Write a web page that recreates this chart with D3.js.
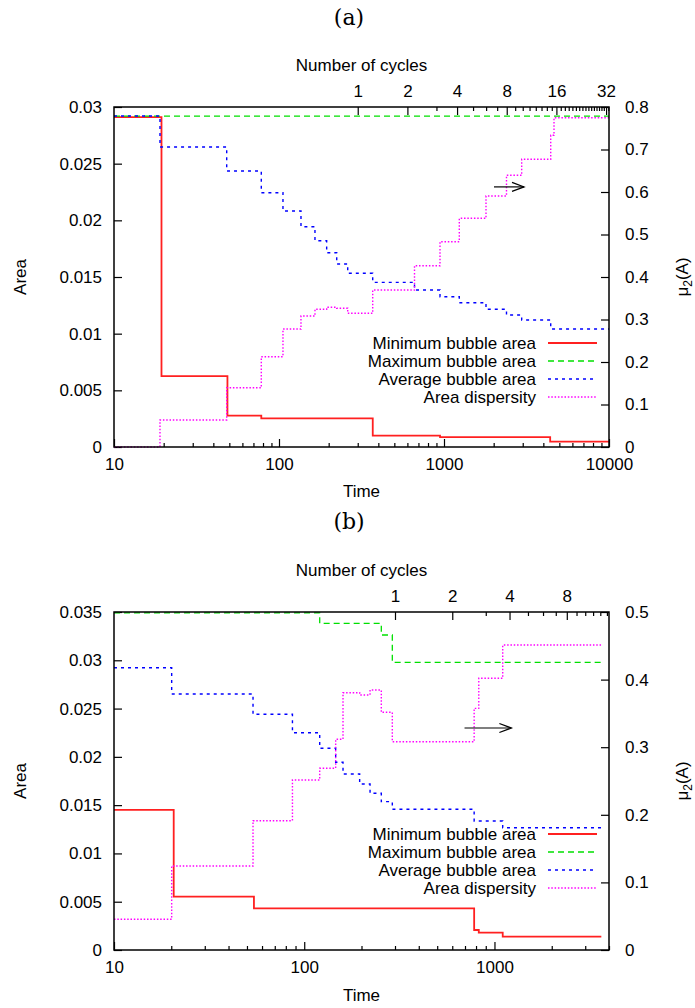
<!DOCTYPE html>
<html>
<head>
<meta charset="utf-8">
<script src="https://cdn.jsdelivr.net/npm/d3@7"></script>
<style>
  body { margin: 0; background: #fff; }
  text { font-family: "Liberation Sans", Arial, sans-serif; fill: #000; }
</style>
</head>
<body>
<div id="chart"></div>
<script>
// one cycle = 300 time units (top axis)
var PERIOD = 300;

// ---- panel (a) ----
var aMinT = [10, 19.4, 48.7, 78.1, 370, 946, 4400, 10000];
var aMin  = [0.0291, 0.00626, 0.00276, 0.00253, 0.00100, 0.00088, 0.00047, 0.00047];
var aMaxT = [10, 10000];
var aMax  = [0.0292, 0.0292];
var aAvgT = [10, 19, 48.2, 78.1, 105.7, 135.9, 165.2, 194.5, 223.8, 260.9, 369.8, 662.6, 945.8, 1238, 1797, 2392, 2957, 4434, 10000];
var aAvg  = [0.0292, 0.02647, 0.02435, 0.02244, 0.02082, 0.01944, 0.01820, 0.01714, 0.01615, 0.01533, 0.01453, 0.01385, 0.01326, 0.01273, 0.01215, 0.01165, 0.01121, 0.01041, 0.01041];
var aDispT = [10, 19, 48.2, 78.1, 105.7, 135.9, 165.2, 194.5, 223.8, 260.9, 369.8, 662.6, 945.8, 1238, 1797, 2392, 2957, 4434, 4642, 10000];
var aDisp  = [0, 0.0635, 0.1395, 0.2125, 0.2776, 0.3082, 0.3240, 0.3287, 0.3264, 0.3146, 0.3694, 0.4266, 0.4831, 0.5381, 0.5906, 0.6393, 0.6769, 0.7334, 0.7748, 0.7748];

// ---- panel (b) ----
var bMinT = [10, 20.6, 54.4, 782, 827, 1105, 3645];
var bMin  = [0.0145, 0.00552, 0.00432, 0.00207, 0.00179, 0.00138, 0.00138];
var bMaxT = [10, 120.6, 254.2, 290.4, 3645];
var bMax  = [0.0349, 0.03383, 0.03262, 0.02979, 0.02979];
var bAvgT = [10, 20.1, 53.8, 86.7, 120.6, 146.3, 159.9, 195.6, 221.8, 254.2, 290.4, 782, 1105, 3645];
var bAvg  = [0.02923, 0.02651, 0.02441, 0.02250, 0.02089, 0.01944, 0.01823, 0.01719, 0.01623, 0.01536, 0.01457, 0.01336, 0.01266, 0.01266];
var bDispT = [10, 20.1, 53.8, 86.7, 120.6, 146.3, 159.9, 195.6, 221.8, 254.2, 290.4, 782, 827, 1105, 3645];
var bDisp  = [0.0454, 0.1243, 0.1913, 0.2515, 0.2688, 0.3117, 0.3806, 0.3772, 0.3846, 0.3516, 0.3081, 0.3575, 0.4019, 0.4512, 0.4512];

// tick values
var timeTicks = [10, 100, 1000, 10000];
var aLeftTicks = [0, 0.005, 0.01, 0.015, 0.02, 0.025, 0.03];
var aRightTicks = [0, 0.1, 0.2, 0.3, 0.4, 0.5, 0.6, 0.7, 0.8];
var bLeftTicks = [0, 0.005, 0.01, 0.015, 0.02, 0.025, 0.03, 0.035];
var bRightTicks = [0, 0.1, 0.2, 0.3, 0.4, 0.5];
var aCycleTicks = [1, 2, 4, 8, 16, 32];
var bCycleTicks = [1, 2, 4, 8];

var legendNames = ["Minimum bubble area", "Maximum bubble area", "Average bubble area", "Area dispersity"];
var styles = [
  {color: "#ff2020", dash: null, width: 1.8, len: 49},
  {color: "#00e000", dash: "6,4", width: 1.3, len: 49},
  {color: "#0000ff", dash: "3,4", width: 1.4, len: 45},
  {color: "#ff00ff", dash: "1.5,1.8", width: 1.4, len: 49}
];

var svg = d3.select("#chart").append("svg")
    .attr("width", 695)
    .attr("height", 1008);

function fmt(d) { return d === 0 ? "0" : String(+d.toFixed(3)); }

function drawPanel(p) {
  var g = svg.append("g");
  var x = d3.scaleLog().domain(p.xDomain).range([p.left, p.right]);
  var xc = d3.scaleLog().domain([p.xDomain[0] / PERIOD, p.xDomain[1] / PERIOD]).range([p.left, p.right]);
  var yL = d3.scaleLinear().domain(p.yL).range([p.bottom, p.top]);
  var yR = d3.scaleLinear().domain(p.yR).range([p.bottom, p.top]);

  // minor ticks on time axis
  var minor = [];
  for (var dec = 10; dec < p.xDomain[1]; dec *= 10)
    for (var k = 2; k <= 9; k++) if (dec * k <= p.xDomain[1]) minor.push(dec * k);

  // minor ticks on cycles axis: integers between the labelled powers of two
  var cycMinor = [];
  var maxC = p.xDomain[1] / PERIOD;
  for (var c = 3; c <= maxC; c++) if (p.cycleTicks.indexOf(c) < 0) cycMinor.push(c);

  function styleAxis(sel) {
    sel.select(".domain").remove();
    sel.selectAll("line").attr("stroke", "#000").attr("stroke-width", 1.2);
    sel.selectAll("text").style("font-size", "17px").style("font-family", "Liberation Sans, Arial, sans-serif");
  }

  g.append("g").attr("transform", "translate(0," + p.bottom + ")")
    .call(d3.axisBottom(x).tickValues(minor).tickFormat("").tickSizeInner(-4).tickSizeOuter(0)).call(styleAxis);
  g.append("g").attr("transform", "translate(0," + p.bottom + ")")
    .call(d3.axisBottom(x).tickValues(timeTicks.filter(function(t) { return t <= p.xDomain[1]; }))
      .tickFormat(d3.format("d")).tickSizeInner(-8).tickSizeOuter(0).tickPadding(11)).call(styleAxis);

  g.append("g").attr("transform", "translate(0," + p.top + ")")
    .call(d3.axisTop(xc).tickValues(cycMinor).tickFormat("").tickSizeInner(-4).tickSizeOuter(0)).call(styleAxis);
  g.append("g").attr("transform", "translate(0," + p.top + ")")
    .call(d3.axisTop(xc).tickValues(p.cycleTicks).tickFormat(d3.format("d"))
      .tickSizeInner(-8).tickSizeOuter(0).tickPadding(10)).call(styleAxis);

  g.append("g").attr("transform", "translate(" + p.left + ",0)")
    .call(d3.axisLeft(yL).tickValues(p.leftTicks).tickFormat(fmt)
      .tickSizeInner(-8).tickSizeOuter(0).tickPadding(12)).call(styleAxis);
  g.append("g").attr("transform", "translate(" + p.right + ",0)")
    .call(d3.axisRight(yR).tickValues(p.rightTicks).tickFormat(fmt)
      .tickSizeInner(-8).tickSizeOuter(0).tickPadding(16)).call(styleAxis);

  // series
  p.series.forEach(function(s, i) {
    var ys = s.right ? yR : yL;
    var pts = s.t.map(function(t, j) { return [t, s.v[j]]; });
    var line = d3.line().x(function(d) { return x(d[0]); }).y(function(d) { return ys(d[1]); })
      .curve(d3.curveStepAfter);
    g.append("path").datum(pts)
      .attr("d", line)
      .attr("fill", "none")
      .attr("stroke", styles[i].color)
      .attr("stroke-width", styles[i].width)
      .attr("stroke-dasharray", styles[i].dash);
  });

  // frame
  g.append("rect")
    .attr("x", p.left).attr("y", p.top)
    .attr("width", p.right - p.left).attr("height", p.bottom - p.top)
    .attr("fill", "none").attr("stroke", "#000").attr("stroke-width", 1.5);

  // legend
  legendNames.forEach(function(name, i) {
    var yy = p.legendTop + i * 18;
    g.append("text").attr("x", 536).attr("y", yy + 6)
      .attr("text-anchor", "end").style("font-size", "17px").text(name);
    g.append("line").attr("x1", 548).attr("x2", 548 + styles[i].len).attr("y1", yy).attr("y2", yy)
      .attr("stroke", styles[i].color).attr("stroke-width", styles[i].width)
      .attr("stroke-dasharray", styles[i].dash);
  });

  // arrow pointing to right axis
  var ax1 = x(p.arrow[0]), ax2 = x(p.arrow[1]), ay = yR(p.arrow[2]);
  g.append("line").attr("x1", ax1).attr("x2", ax2).attr("y1", ay).attr("y2", ay)
    .attr("stroke", "#000").attr("stroke-width", 1.2);
  g.append("path")
    .attr("d", "M" + (ax2 - 12) + "," + (ay - 4.5) + "L" + ax2 + "," + ay + "L" + (ax2 - 12) + "," + (ay + 4.5))
    .attr("fill", "none").attr("stroke", "#000").attr("stroke-width", 1.2);

  // labels
  var cx = (p.left + p.right) / 2;
  g.append("text").attr("x", 349).attr("y", p.titleY)
    .attr("text-anchor", "middle")
    .style("font-family", "DejaVu Serif, serif").style("font-size", "22px")
    .text(p.title);
  g.append("text").attr("x", cx).attr("y", p.top - 36)
    .attr("text-anchor", "middle").style("font-size", "17px").text("Number of cycles");
  g.append("text").attr("x", cx).attr("y", p.bottom + p.timeGap)
    .attr("text-anchor", "middle").style("font-size", "17px").text("Time");
  var midY = (p.top + p.bottom) / 2;
  g.append("text").attr("transform", "translate(26," + midY + ") rotate(-90)")
    .attr("text-anchor", "middle").style("font-size", "17px").text("Area");
  var mu = g.append("text").attr("transform", "translate(688," + midY + ") rotate(-90)")
    .attr("text-anchor", "middle").style("font-size", "17px");
  mu.append("tspan").text("\u03bc");
  mu.append("tspan").attr("dy", 4).style("font-size", "12px").text("2");
  mu.append("tspan").attr("dy", -4).text("(A)");
}

drawPanel({
  title: "(a)", titleY: 25,
  left: 114, right: 609, top: 107, bottom: 447,
  xDomain: [10, 10000], yL: [0, 0.03], yR: [0, 0.8],
  leftTicks: aLeftTicks, rightTicks: aRightTicks, cycleTicks: aCycleTicks,
  timeGap: 50, legendTop: 343,
  arrow: [2009, 3055, 0.612],
  series: [
    {t: aMinT, v: aMin}, {t: aMaxT, v: aMax},
    {t: aAvgT, v: aAvg}, {t: aDispT, v: aDisp, right: true}
  ]
});

drawPanel({
  title: "(b)", titleY: 529,
  left: 114, right: 609, top: 612, bottom: 950,
  xDomain: [10, 4000], yL: [0, 0.035], yR: [0, 0.5],
  leftTicks: bLeftTicks, rightTicks: bRightTicks, cycleTicks: bCycleTicks,
  timeGap: 51, legendTop: 834,
  arrow: [696, 1227, 0.3284],
  series: [
    {t: bMinT, v: bMin}, {t: bMaxT, v: bMax},
    {t: bAvgT, v: bAvg}, {t: bDispT, v: bDisp, right: true}
  ]
});
</script>
</body>
</html>
